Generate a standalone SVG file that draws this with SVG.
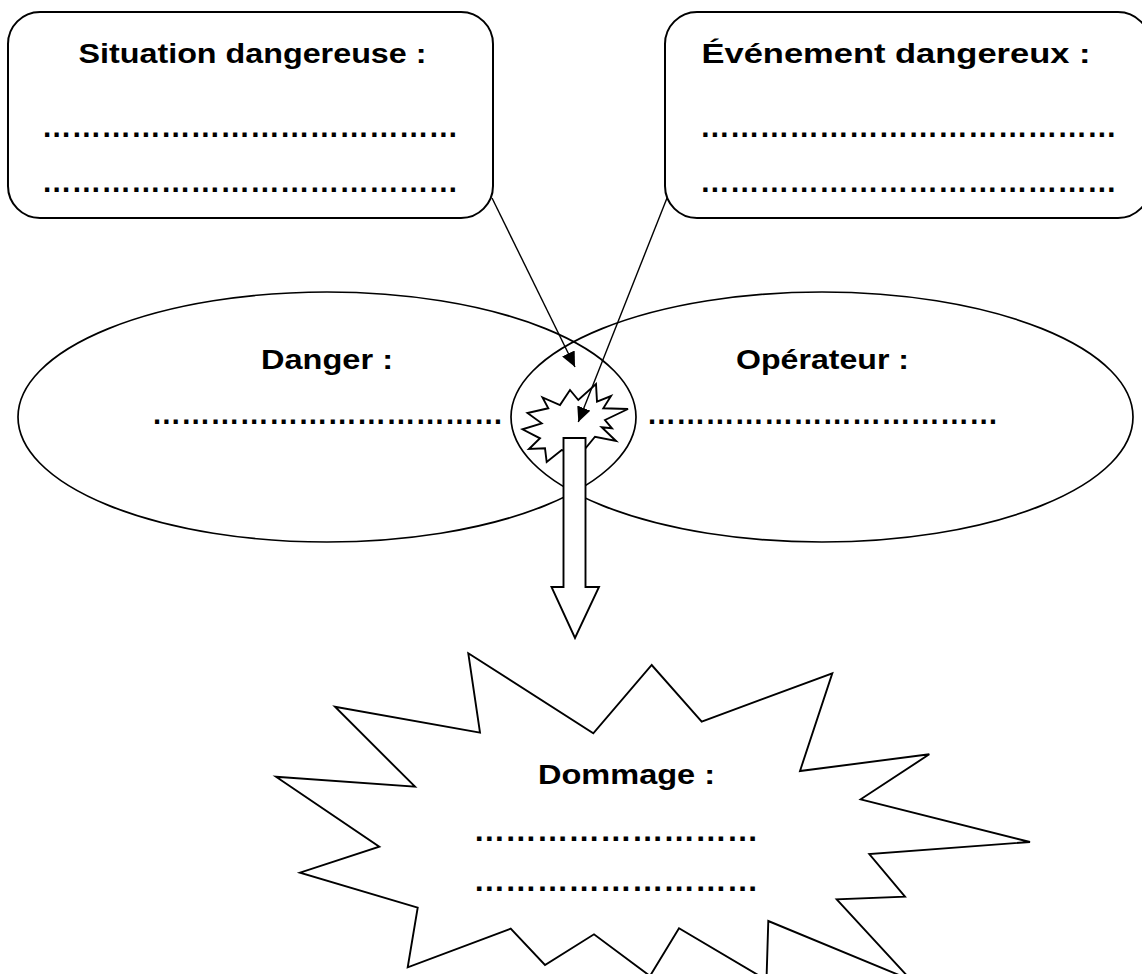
<svg xmlns="http://www.w3.org/2000/svg" width="1142" height="974" viewBox="0 0 1142 974">
  <style>
    .t { font-family: "Liberation Sans", Arial, sans-serif; font-weight: bold; font-size: 28.5px; fill: #000; }
    .d { font-family: "Liberation Sans", Arial, sans-serif; font-weight: bold; font-size: 30px; fill: #000; }
    .box { fill: #fff; stroke: #000; stroke-width: 2; }
    .ell { fill: none; stroke: #000; stroke-width: 1.7; }
    .shape { fill: #fff; stroke: #000; stroke-width: 1.9; stroke-linejoin: miter; }
    .conn { fill: none; stroke: #000; stroke-width: 1.4; }
  </style>
  <defs>
    <marker id="arr" markerUnits="userSpaceOnUse" markerWidth="16" markerHeight="14" refX="15" refY="7" orient="auto">
      <path d="M0,0 L15,7 L0,14 Z" fill="#000"/>
    </marker>
  </defs>
  <rect width="1142" height="974" fill="#fff"/>

  <g id="danger">
    <ellipse class="ell" cx="327" cy="417" rx="309" ry="125"/>
    <text class="t" x="261" y="369" textLength="132" lengthAdjust="spacingAndGlyphs">Danger :</text>
    <text class="d" x="151.7" y="424" textLength="351.7" lengthAdjust="spacingAndGlyphs">………………………………</text>
  </g>

  <g id="operateur">
    <ellipse class="ell" cx="822" cy="417" rx="311" ry="125"/>
    <text class="t" x="736" y="369" textLength="173" lengthAdjust="spacingAndGlyphs">Opérateur :</text>
    <text class="d" x="646.7" y="424" textLength="351.7" lengthAdjust="spacingAndGlyphs">………………………………</text>
  </g>

  <g id="situation">
    <rect class="box" x="8" y="12" width="485" height="206" rx="32" ry="32"/>
    <text class="t" x="78.5" y="63" textLength="348" lengthAdjust="spacingAndGlyphs">Situation dangereuse :</text>
    <text class="d" x="41.7" y="136.5" textLength="416.7" lengthAdjust="spacingAndGlyphs">……………………………………</text>
    <text class="d" x="41.7" y="191.5" textLength="416.7" lengthAdjust="spacingAndGlyphs">……………………………………</text>
  </g>

  <g id="evenement">
    <rect class="box" x="665" y="12" width="485" height="206" rx="32" ry="32"/>
    <text class="t" x="701.5" y="63" textLength="389" lengthAdjust="spacingAndGlyphs">Événement dangereux :</text>
    <text class="d" x="700" y="136.5" textLength="416.7" lengthAdjust="spacingAndGlyphs">……………………………………</text>
    <text class="d" x="700" y="191.5" textLength="416.7" lengthAdjust="spacingAndGlyphs">……………………………………</text>
  </g>

  <g id="evenement-explosion">
    <polygon class="shape" points="570,390 578.3,400 596,384 597,401.7 611,396 603.3,408.3 628,409 605,420 612,428.3 601.7,427.3 616,441 595,436.7 580,455 561.7,450 546.7,462 545,448.3 529,449 540,438.3 522.5,429.3 541.7,423.3 527.5,413 548.3,408.3 542.5,397.5 560,405"/>
  </g>

  <g id="connectors">
    <line class="conn" x1="492" y1="198" x2="575" y2="367" marker-end="url(#arr)"/>
    <line class="conn" x1="667" y1="198" x2="578.3" y2="422" marker-end="url(#arr)"/>
    <polygon class="shape" points="563.5,438 585.5,438 585.5,587 599,587 575,638 551.5,587 563.5,587"/>
  </g>

  <g id="dommage">
    <polygon class="shape" points="468.3,653.3 593.3,733.3 651.7,665 701.7,721.7 832.3,673.3 800,771 929.3,754.3 860.7,799.3 1030,842 869.3,854 905,896.7 836.7,899.3 911,980 768.3,921 766.5,980 679,928.3 650,976 594,934.3 545,965 510.7,928.7 407.7,967.3 417.7,907.7 300,872.7 379.3,846.7 276,776.7 415,786.7 335,706.7 480,732.7"/>
    <text class="t" x="538" y="784" textLength="177" lengthAdjust="spacingAndGlyphs">Dommage :</text>
    <text class="d" x="473.4" y="840.5" textLength="284.9" lengthAdjust="spacingAndGlyphs">………………………</text>
    <text class="d" x="473.4" y="890.5" textLength="284.9" lengthAdjust="spacingAndGlyphs">………………………</text>
  </g>
</svg>
